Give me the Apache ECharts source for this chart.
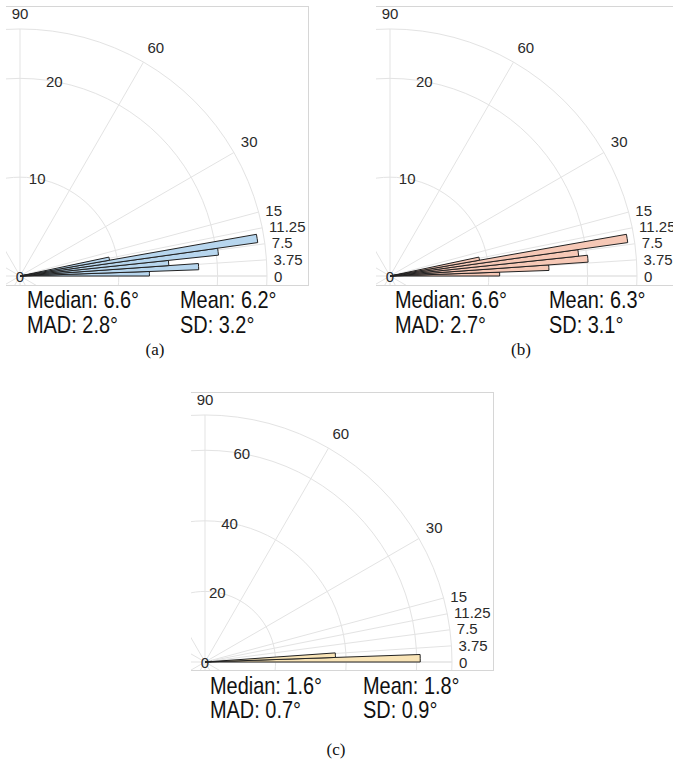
<!DOCTYPE html>
<html><head><meta charset="utf-8">
<script src="https://cdn.jsdelivr.net/npm/echarts@6/dist/echarts.min.js"></script>
<style>
html,body{margin:0;padding:0;background:#fff;}
#page{position:relative;width:673px;height:769px;overflow:hidden;}
#bg{position:absolute;left:0;top:0;width:673px;height:769px;}
.panel{position:absolute;overflow:hidden;}
</style></head><body>
<div id="page">
<div id="bg"></div>
<div id="pa" class="panel" style="left:6px;top:6px;width:303px;height:280px"></div>
<div id="pb" class="panel" style="left:376px;top:6px;width:303px;height:280px"></div>
<div id="pc" class="panel" style="left:191px;top:392px;width:303px;height:279px"></div>
</div>
<script>
// ---- data ----
const bins = ['0-2', '2-4', '4-6', '6-8', '8-10', '10-12'];
const valuesA = [13.1, 18.1, 15.1, 20.2, 24.3, 9.2];
const valuesB = [11.1, 16.1, 20.1, 19.2, 24.3, 9.2];
const valuesC = [61.0, 37.0, 2.0];
const angleTicksFine = [0, 3.75, 7.5, 11.25, 15];
const angleTicksCoarse = [30, 60, 90];
const radialTicksAB = [0, 10, 20];
const radialTicksC = [0, 20, 40, 60];
const statLabels = ['Median', 'Mean', 'MAD', 'SD'];
const statsA = [6.6, 6.2, 2.8, 3.2];
const statsB = [6.6, 6.3, 2.7, 3.1];
const statsC = [1.6, 1.8, 0.7, 0.9];
const captions = ['(a)', '(b)', '(c)'];

const FONT = 'Liberation Sans, Arial, Helvetica, sans-serif';
const GRID = '#e3e3e3';
const BOX = '#d6d6d6';

function panelOption(values, rMax, rStep, radialTicks, color, w, h) {
  const center = [14, 270];
  const radius = 247;
  const lab = {color: '#2a2a2a', fontFamily: FONT, fontSize: 15};
  return {
    animation: false,
    polar: [0, 1, 2, 3].map(() => ({center: center, radius: radius})),
    angleAxis: [
      {polarIndex: 0, type: 'value', min: 0, max: 360, interval: 30, startAngle: 0, clockwise: false,
        axisLine: {show: false}, axisTick: {show: false},
        splitLine: {show: true, lineStyle: {color: GRID, width: 1}},
        axisLabel: Object.assign({}, lab, {margin: 8,
          formatter: v => angleTicksCoarse.indexOf(v) >= 0 ? String(v) : ''})},
      {polarIndex: 1, type: 'value', min: 0, max: 15, interval: 3.75, startAngle: 0, endAngle: 15, clockwise: false,
        axisLine: {show: false}, axisTick: {show: false},
        splitLine: {show: true, lineStyle: {color: GRID, width: 1}},
        axisLabel: Object.assign({}, lab, {margin: 7,
          formatter: v => angleTicksFine.indexOf(v) >= 0 ? String(v) : ''})},
      {polarIndex: 2, type: 'value', min: 0, max: 90, startAngle: 80, clockwise: false, show: false},
      {polarIndex: 3, type: 'category', data: bins, startAngle: 0, endAngle: 12, clockwise: false,
        boundaryGap: true, show: false}
    ],
    radiusAxis: [
      {polarIndex: 0, type: 'value', min: 0, max: rMax, interval: rStep,
        axisLine: {show: false}, axisTick: {show: false}, axisLabel: {show: false},
        splitLine: {show: true, lineStyle: {color: GRID, width: 1}}},
      {polarIndex: 1, type: 'value', min: 0, max: rMax, show: false},
      {polarIndex: 2, type: 'value', min: 0, max: rMax, interval: rStep,
        axisLine: {show: false}, axisTick: {show: false}, splitLine: {show: false},
        axisLabel: Object.assign({}, lab, {margin: 0, align: 'center', verticalAlign: 'middle',
          showMaxLabel: true, showMinLabel: true,
          formatter: v => radialTicks.indexOf(v) >= 0 ? String(v) : ''})},
      {polarIndex: 3, type: 'value', min: 0, max: rMax, show: false}
    ],
    series: [{
      type: 'bar', coordinateSystem: 'polar', polarIndex: 3, data: values,
      barCategoryGap: '0%', z: 3,
      itemStyle: {color: color, borderColor: '#222', borderWidth: 1}
    }],
    graphic: [
      {type: 'line', z: 100, shape: {x1: 0, y1: 0.5, x2: w, y2: 0.5}, style: {stroke: BOX, lineWidth: 1}},
      {type: 'line', z: 100, shape: {x1: 0, y1: h - 0.5, x2: w, y2: h - 0.5}, style: {stroke: BOX, lineWidth: 1}},
      {type: 'line', z: 100, shape: {x1: w - 0.5, y1: 0, x2: w - 0.5, y2: h}, style: {stroke: BOX, lineWidth: 1}}
    ]
  };
}

const ca = echarts.init(document.getElementById('pa'), null, {renderer: 'svg'});
ca.setOption(panelOption(valuesA, 25, 10, radialTicksAB, '#b7d6ee', 303, 280));
const cb = echarts.init(document.getElementById('pb'), null, {renderer: 'svg'});
cb.setOption(panelOption(valuesB, 25, 10, radialTicksAB, '#f6c8b6', 303, 280));
const cc = echarts.init(document.getElementById('pc'), null, {renderer: 'svg'});
cc.setOption(panelOption(valuesC, 70, 20, radialTicksC, '#f9e4b6', 303, 279));

// ---- texts ----
function statText(label, v, x, y) {
  return {type: 'text', x: x, y: y, scaleX: 0.83,
    style: {text: label + ': ' + v.toFixed(1) + '\u00b0', fontFamily: FONT, fontSize: 24,
      fill: '#111', align: 'left', verticalAlign: 'middle'}};
}
function statBlock(stats, x0, x1, y0, y1) {
  return [
    statText(statLabels[0], stats[0], x0, y0),
    statText(statLabels[1], stats[1], x1, y0),
    statText(statLabels[2], stats[2], x0, y1),
    statText(statLabels[3], stats[3], x1, y1)
  ];
}
function caption(t, x, y) {
  return {type: 'text', x: x, y: y,
    style: {text: t, fontFamily: 'Liberation Serif, Times New Roman, serif', fontSize: 17,
      fill: '#111', align: 'center', verticalAlign: 'middle'}};
}
const bg = echarts.init(document.getElementById('bg'), null, {renderer: 'svg'});
bg.setOption({
  animation: false,
  graphic: [].concat(
    statBlock(statsA, 27, 180, 300, 325),
    statBlock(statsB, 395, 549, 300, 325),
    statBlock(statsC, 210, 363, 686, 710),
    [caption(captions[0], 155, 349), caption(captions[1], 521, 349), caption(captions[2], 336, 749)]
  )
});
</script>
</body></html>
